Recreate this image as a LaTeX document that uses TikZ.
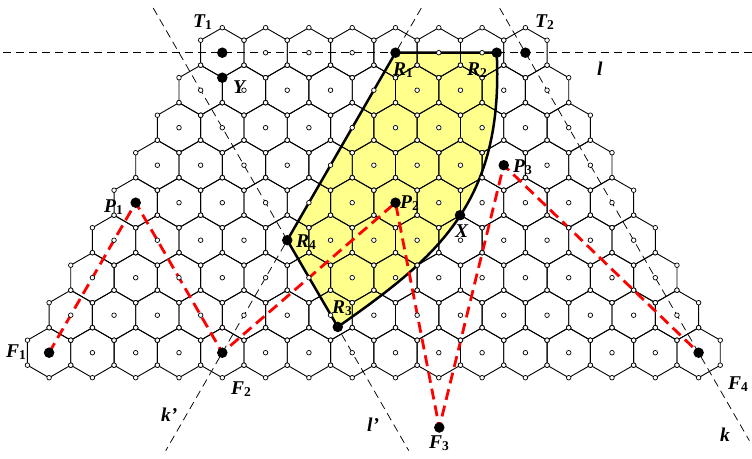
\documentclass[tikz,border=0pt]{standalone}
\usepackage{fontspec}
\setmainfont{Liberation Serif}
\definecolor{regionyellow}{RGB}{255,255,140}
\newcommand{\lbl}[2]{#1\raisebox{-2.5pt}{\fontsize{13.5}{13.5}\selectfont\bfseries\upshape #2}}
\begin{document}
\begin{tikzpicture}[x=1pt,y=-1pt,
  hexline/.style={line width=0.9pt, black},
  guide/.style={line width=0.75pt, dash pattern=on 8pt off 5pt},
  redpath/.style={red, line width=2.8pt, dash pattern=on 11pt off 6pt},
  border/.style={line width=2.5pt, line join=round},
  smallc/.style={fill=white, draw=black, line width=0.7pt},
  dot/.style={circle, fill=black, inner sep=0pt, minimum size=10.5pt},
  lab/.style={inner sep=0pt, anchor=base west, font=\fontsize{19.5}{19.5}\selectfont\bfseries\itshape}]

\useasboundingbox (0,0) rectangle (752,458);

% special points
\coordinate (T1) at (222.3,52.7);
\coordinate (T2) at (525.4,52.7);
\coordinate (Y)  at (222.3,77.7);
\coordinate (R1) at (395.5,52.7);
\coordinate (R2) at (496.7,52.7);
\coordinate (R3) at (337.8,326.9);
\coordinate (R4) at (287.25,240.2);
\coordinate (X)  at (460.0,215.2);
\coordinate (P1) at (135.7,202.7);
\coordinate (P2) at (395.5,202.7);
\coordinate (P3) at (503.75,165.2);
\coordinate (F1) at (49.1,352.7);
\coordinate (F2) at (222.3,352.7);
\coordinate (F3) at (439.3,427.5);
\coordinate (F4) at (698.6,352.7);

% guide line ends
\coordinate (lW)  at (3,52.7);
\coordinate (lE)  at (752,52.7);
\coordinate (lpN) at (153.2,8);
\coordinate (lpS) at (408.8,450.7);
\coordinate (kpN) at (421.3,8);
\coordinate (kpS) at (165.7,450.7);
\coordinate (kN)  at (499.6,8);
\coordinate (kS)  at (749.4,440.7);

\def\regionpath{(R1) -- (R4) -- (R3) .. controls (437.5,257.0) and (504,202.7) .. (R2) -- cycle}

% yellow region
\fill[regionyellow] \regionpath;

% hexagonal grid
\foreach \r in {0,...,8}{
  \pgfmathtruncatemacro{\nmax}{7+\r}
  \foreach \i in {0,...,\nmax}{
    \pgfmathsetmacro{\cx}{222.3+(\i-\r/2)*43.3}
    \pgfmathsetmacro{\cy}{52.7+37.5*\r}
    \draw[hexline] (\cx,\cy) +(30:25pt) -- +(90:25pt) -- +(150:25pt) -- +(210:25pt) -- +(270:25pt) -- +(330:25pt) -- cycle;
  }
}

% dashed guide lines
\draw[guide] (lW) -- (lE);
\draw[guide] (lpN) -- (lpS);
\draw[guide] (kpN) -- (kpS);
\draw[guide] (kN) -- (kS);

% region border
\draw[border] \regionpath;

% red dashed path
\draw[redpath, line join=round] (F1) -- (P1) -- (F2) -- (P2) -- (F3) -- (P3) -- (F4);

% small circles at vertices and centres
\foreach \r in {0,...,8}{
  \pgfmathtruncatemacro{\nmax}{7+\r}
  \foreach \i in {0,...,\nmax}{
    \pgfmathsetmacro{\cx}{222.3+(\i-\r/2)*43.3}
    \pgfmathsetmacro{\cy}{52.7+37.5*\r}
    \path[smallc] (\cx,\cy) circle[radius=2.3pt];
    \foreach \a in {30,90,...,330}{
      \path[smallc] (\cx,\cy) ++(\a:25pt) circle[radius=2.3pt];
    }
  }
}

% black dots
\foreach \p in {T1,T2,Y,R1,R2,R3,R4,X,P1,P2,P3,F1,F2,F3,F4}{
  \node[dot] (d\p) at (\p) {};
}

% labels
\node[lab] (labT1) at (193,27) {\lbl{T}{1}};
\node[lab] (labT2) at (535,27) {\lbl{T}{2}};
\node[lab] (labY)  at (233,93) {Y};
\node[lab] (labR1) at (393,75) {\lbl{R}{1}};
\node[lab] (labR2) at (467,75) {\lbl{R}{2}};
\node[lab] (labl)  at (597,75) {l};
\node[lab] (labP1) at (104,212) {\lbl{P}{1}};
\node[lab] (labP2) at (400,208) {\lbl{P}{2}};
\node[lab] (labP3) at (513,172) {\lbl{P}{3}};
\node[lab] (labX)  at (455,237) {X};
\node[lab] (labR4) at (296,247) {\lbl{R}{4}};
\node[lab] (labR3) at (332,313) {\lbl{R}{3}};
\node[lab] (labF1) at (6,357) {\lbl{F}{1}};
\node[lab] (labF2) at (231,394) {\lbl{F}{2}};
\node[lab] (labF3) at (429,448) {\lbl{F}{3}};
\node[lab] (labF4) at (728,389) {\lbl{F}{4}};
\node[lab] (labkp) at (161,421) {k'};
\node[lab] (lablp) at (367,431) {l'};
\node[lab] (labk)  at (720,441) {k};
\end{tikzpicture}
\end{document}
